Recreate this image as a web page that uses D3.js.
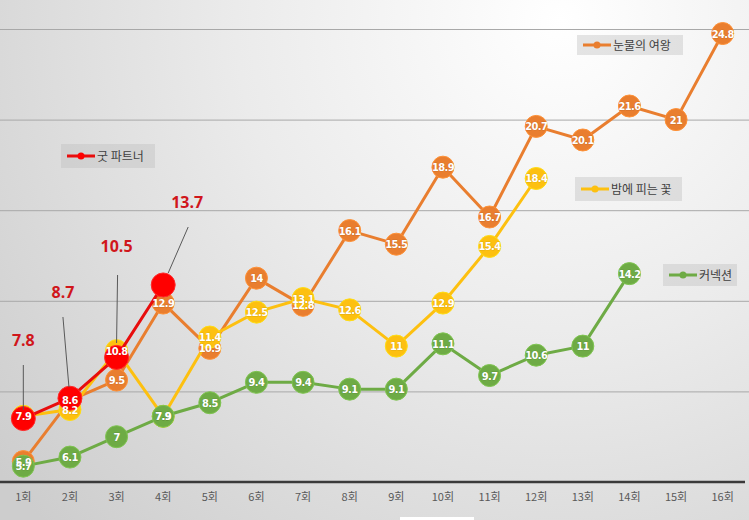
<!DOCTYPE html>
<html><head><meta charset="utf-8">
<script src="https://cdn.jsdelivr.net/npm/d3@7"></script>
<style>
html,body{margin:0;padding:0;background:#fff;}
svg{display:block;}
</style></head>
<body>
<div id="chart"></div>
<script>
const categories = ["1회","2회","3회","4회","5회","6회","7회","8회","9회","10회","11회","12회","13회","14회","15회","16회"];
const queenOfTears = [5.9,8.6,9.5,12.9,10.9,14,12.8,16.1,15.5,18.9,16.7,20.7,20.1,21.6,21,24.8];
const knightFlower = [7.9,8.2,10.8,7.9,11.4,12.5,13.1,12.6,11,12.9,15.4,18.4];
const connection = [5.7,6.1,7,7.9,8.5,9.4,9.4,9.1,9.1,11.1,9.7,10.6,11,14.2];
const goodPartner = [7.8,8.7,10.5,13.7];
const gridTicks = [5,9,13,17,21,25];

const W = 749, H = 520;
const svg = d3.select("#chart").append("svg").attr("width", W).attr("height", H);
const defs = svg.append("defs");
const rg = defs.append("radialGradient").attr("id","bg")
  .attr("gradientUnits","userSpaceOnUse").attr("cx",560).attr("cy",20).attr("r",720);
rg.append("stop").attr("offset","0%").attr("stop-color","#ffffff");
rg.append("stop").attr("offset","45%").attr("stop-color","#ebebeb");
rg.append("stop").attr("offset","100%").attr("stop-color","#cdcdcd");
svg.append("rect").attr("width",W).attr("height",H).attr("fill","url(#bg)");

const x = d3.scaleBand().domain(categories).range([0, 746]);
const y = d3.scaleLinear().domain([5,25]).range([482,29]);
const cx = c => x(c) + x.bandwidth()/2;

// gridlines
svg.append("g").selectAll("line").data(gridTicks.slice(1)).join("line")
  .attr("x1",0).attr("x2",W).attr("y1",d=>y(d)+0.5).attr("y2",d=>y(d)+0.5)
  .attr("stroke","#a8a8a8").attr("stroke-width",1);

// x axis
const xAxis = svg.append("g").attr("transform","translate(0,482)")
  .call(d3.axisBottom(x).tickSize(0).tickPadding(11));
xAxis.select(".domain").attr("stroke","#3a3a3a").attr("stroke-width",2.5).attr("d","M0,0H745");
xAxis.selectAll("text").attr("fill","#595959").attr("font-size","11px")
  .attr("font-family","'Noto Sans CJK KR', sans-serif");

const series = [
  {name:"눈물의 여왕", data:queenOfTears, color:"#E97E2F", labels:true},
  {name:"밤에 피는 꽃", data:knightFlower, color:"#FDC010", labels:true},
  {name:"커넥션", data:connection, color:"#6EAB45", labels:true},
  {name:"굿 파트너", data:goodPartner, color:"#E80D0D", labels:false}
];

const line = d3.line().x((d,i)=>cx(categories[i])).y(d=>y(d));
series.forEach(s=>{
  const g = svg.append("g");
  g.append("path").datum(s.data).attr("d",line).attr("fill","none")
    .attr("stroke",s.color).attr("stroke-width",3).attr("stroke-linejoin","round");
  g.selectAll("circle").data(s.data).join("circle")
    .attr("cx",(d,i)=>cx(categories[i])).attr("cy",d=>y(d))
    .attr("r", s.labels ? 11 : 12)
    .attr("fill", s.labels ? s.color : "#FF0000")
    .attr("stroke", s.labels ? d3.color(s.color).brighter(0.4) : "#ff2a2a").attr("stroke-width",1);
});
// data labels
series.filter(s=>s.labels).forEach(s=>{
  svg.append("g").selectAll("text").data(s.data).join("text")
    .attr("x",(d,i)=>cx(categories[i])).attr("y",d=>y(d)+4)
    .attr("text-anchor","middle").attr("fill","#ffffff").attr("font-weight","bold")
    .attr("font-size","11px").attr("letter-spacing","-0.6px")
    .attr("font-family","'Liberation Sans Narrow','DejaVu Sans Condensed',sans-serif")
    .style("paint-order","stroke").attr("stroke","rgba(0,0,0,0.12)").attr("stroke-width",1)
    .text(d=>d);
});

// callouts for 굿 파트너
const callouts = [
  {i:0, tx:0, ty:340, l:[0,365,0,410]},
  {i:1, tx:-7, ty:292, l:[-7,317,-1,387]},
  {i:2, tx:0, ty:246, l:[1,275,0,343]},
  {i:3, tx:24, ty:202, l:[25,227,5,273]}
];
const cg = svg.append("g");
callouts.forEach(c=>{
  const px = cx(categories[c.i]);
  cg.append("line").attr("x1",px+c.l[0]).attr("y1",c.l[1]).attr("x2",px+c.l[2]).attr("y2",c.l[3])
    .attr("stroke","#595959").attr("stroke-width",1);
  cg.append("text").attr("x",px+c.tx).attr("y",c.ty+6).attr("text-anchor","middle")
    .attr("fill","#D0161B").attr("font-weight","bold").attr("font-size","16px")
    .attr("font-family","'Open Sans','Liberation Sans',sans-serif").text(goodPartner[c.i]);
});

// legends
const legends = [
  {s:0, x:577, y:35, w:106, h:20},
  {s:3, x:61, y:144, w:94, h:24},
  {s:1, x:575, y:177, w:107, h:24},
  {s:2, x:663, y:264, w:74, h:22}
];
legends.forEach(l=>{
  const s = series[l.s];
  const g = svg.append("g").attr("transform",`translate(${l.x},${l.y})`);
  g.append("rect").attr("width",l.w).attr("height",l.h).attr("fill","rgba(190,190,190,0.4)");
  const my = l.h/2;
  g.append("line").attr("x1",6).attr("x2",34).attr("y1",my).attr("y2",my)
    .attr("stroke",s.color).attr("stroke-width",3);
  g.append("circle").attr("cx",20).attr("cy",my).attr("r",3.5).attr("fill",s.labels?s.color:"#FF0000");
  g.append("text").attr("x",36).attr("y",my+4.5).attr("fill","#404040").attr("font-size","12px")
    .attr("font-family","'Noto Sans CJK KR', sans-serif").text(s.name);
});
svg.append("rect").attr("x",400).attr("y",517).attr("width",74).attr("height",3).attr("fill","#ffffff");
</script>
</body></html>
